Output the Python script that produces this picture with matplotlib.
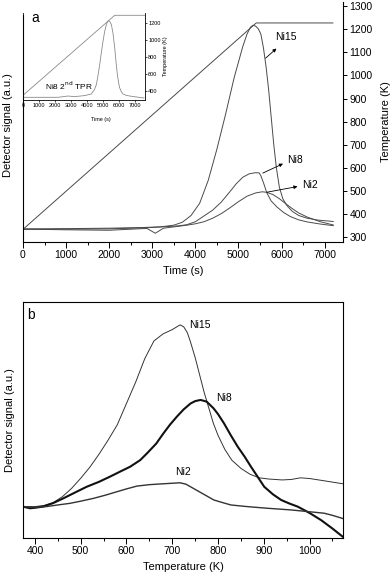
import matplotlib
matplotlib.use('Agg')
import matplotlib.pyplot as plt
from matplotlib.ticker import MultipleLocator

plt.rcParams['font.family'] = ['Liberation Sans', 'DejaVu Sans']

# ---- panel a: TPR signals vs time (signal in temperature-equivalent units) ----
ramp_t = [0, 5413, 7193]
ramp_T = [332, 1228, 1228]

ni15_t = [0, 1000, 2000, 2800, 3200, 3500, 3700, 3900, 4100, 4300, 4500, 4700, 4900, 5100,
          5200, 5280, 5340, 5400, 5460, 5520, 5580, 5640, 5700, 5760, 5820, 5880, 5950, 6030,
          6125, 6250, 6400, 6600, 6850, 7200]
ni15_s = [333, 335, 337, 340, 343, 350, 363, 392, 445, 545, 680, 830, 990, 1125,
          1180, 1210, 1218, 1214, 1203, 1180, 1120, 1040, 940, 820, 700, 600, 515, 465,
          435, 410, 392, 380, 372, 366]

ni8_t = [0, 1000, 2000, 3000, 3600, 3800, 4000, 4200, 4400, 4600, 4800, 4950, 5100, 5250,
         5400, 5480, 5520, 5580, 5660, 5760, 5900, 6050, 6200, 6400, 6600, 6900, 7200]
ni8_s = [333, 333, 334, 340, 347, 352, 365, 390, 415, 450, 495, 530, 558, 573,
         578, 577, 565, 535, 490, 455, 428, 405, 388, 373, 364, 355, 348]

ni2_t = [0, 1000, 2000, 2877, 3070, 3262, 3600, 3800, 4000, 4200, 4400, 4600, 4800, 5000,
         5200, 5400, 5550, 5650, 5800, 5950, 6100, 6250, 6400, 6600, 6900, 7200]
ni2_s = [333, 330, 328, 336, 315, 337, 345, 350, 356, 365, 380, 400, 425, 452,
         476, 490, 495, 493, 483, 465, 443, 422, 403, 385, 365, 351]

# inset: Ni8 2nd TPR
ins_ramp_t = [0, 5717, 7586]
ins_ramp_T = [353, 1290, 1290]
ins_t = [0, 2182, 2805, 3220, 3843, 4260, 4450, 4572, 4680, 4780, 4880, 4988, 5090, 5196,
         5280, 5343, 5420, 5509, 5610, 5717, 5800, 5883, 5960, 6030, 6130, 6234, 6450,
         6754, 7540]
ins_s = [330, 330, 345, 338, 350, 369, 420, 478, 590, 712, 850, 986, 1100, 1181,
         1220, 1228, 1215, 1181, 1080, 908, 740, 595, 500, 439, 395, 369, 352,
         342, 322]

# ---- panel b: signals vs temperature (a.u.) ----
b15_T = [374, 400, 420, 440, 460, 480, 500, 520, 540, 560, 580, 600, 620, 640, 660, 680,
         700, 717, 725, 733, 740, 750, 760, 770, 780, 790, 800, 815, 830, 850, 870, 890,
         910, 940, 960, 980, 1000, 1030, 1072]
b15_s = [13.3, 13.3, 13.8, 15, 17.5, 21, 25.3, 30, 35.5, 41.5, 48, 57, 66, 76, 83.5, 86.5,
         88.3, 90.3, 89.5, 87, 83, 76.5, 69, 61.5, 55, 48.5, 43.5, 37.5, 33, 29.5, 27, 25.5,
         25, 24.6, 24.8, 25.5, 25.2, 24.3, 23]

b8_T = [374, 389, 400, 418, 440, 462, 490, 513, 540, 564, 590, 608, 630, 645, 665, 681,
        695, 710, 725, 740, 750, 762, 775, 790, 800, 813, 828, 843, 858, 872, 887, 901,
        920, 938, 956, 974, 1000, 1025, 1050, 1072]
b8_s = [13.3, 12.6, 12.8, 13.3, 14.8, 16.8, 19.5, 21.7, 23.8, 26, 28.5, 30.2, 33, 35.9, 40, 44.4,
        48, 51.4, 54.5, 57, 58, 58.5, 57.8, 55, 52.5, 48.6, 43.5, 38.7, 34.5, 30.2, 25.8, 21.7,
        18.5, 16.1, 14.6, 13.3, 10.6, 7.6, 4, 0.6]

b2_T = [374, 400, 425, 450, 477, 500, 528, 555, 579, 600, 623, 650, 674, 700, 717, 730,
        740, 760, 791, 810, 828, 864, 908, 959, 996, 1032, 1050, 1072]
b2_s = [13.3, 13, 13.3, 14, 14.7, 15.6, 16.8, 18.2, 19.6, 20.8, 22, 22.6, 22.9, 23.2, 23.4, 22.8,
        21.7, 19.5, 16.1, 15, 14, 13.3, 12.6, 11.9, 11.2, 10.5, 9.6, 8.3]

W, H = 392, 579


def box(l, t, r, b):
    return [l / W, 1 - b / H, (r - l) / W, (b - t) / H]


fig = plt.figure(figsize=(W / 100, H / 100), dpi=100)
line_c = '#4a4a4a'

# panel a
axa = fig.add_axes(box(23, 2, 342.7, 242))
axa.set_facecolor('none')
axa.set_xlim(0, 7420)
axa.set_ylim(277, 1319)
axa.spines['top'].set_visible(False)
axa.spines['left'].set_bounds(277, 1262)
for sp in axa.spines.values():
    sp.set_linewidth(0.8)
axa.plot(ramp_t, ramp_T, color=line_c, lw=0.7)
axa.plot(ni15_t, ni15_s, color=line_c, lw=0.7)
axa.plot(ni8_t, ni8_s, color=line_c, lw=0.7)
axa.plot(ni2_t, ni2_s, color=line_c, lw=0.7)
axa.xaxis.set_major_locator(MultipleLocator(1000))
axa.xaxis.set_minor_locator(MultipleLocator(500))
axa.yaxis.set_major_locator(MultipleLocator(100))
axa.yaxis.tick_right()
axa.yaxis.set_label_position('right')
axa.tick_params(axis='x', which='major', direction='out', length=4, width=0.7, labelsize=7.5, pad=2)
axa.tick_params(axis='x', which='minor', direction='out', length=2.5, width=0.7)
axa.tick_params(axis='y', which='major', direction='out', length=3, width=0.7, labelsize=7.5, pad=2)
axa.set_xlabel('Time (s)', fontsize=8, labelpad=4)
axa.set_ylabel('Temperature (K)', fontsize=8, labelpad=6)

axa.annotate('', xy=(5930, 1125), xytext=(5582, 1067),
             arrowprops=dict(arrowstyle='-|>', lw=0.6, color='k', mutation_scale=5))
axa.text(5853, 1166, 'Ni15', fontsize=7.5, va='center', ha='left')
axa.annotate('', xy=(6093, 622), xytext=(5506, 571),
             arrowprops=dict(arrowstyle='-|>', lw=0.6, color='k', mutation_scale=5))
axa.text(6130, 633, 'Ni8', fontsize=7.5, va='center', ha='left')
axa.annotate('', xy=(6434, 520), xytext=(5599, 491),
             arrowprops=dict(arrowstyle='-|>', lw=0.6, color='k', mutation_scale=5))
axa.text(6470, 524, 'Ni2', fontsize=7.5, va='center', ha='left')

fig.text(8 / W, 1 - 125 / H, 'Detector signal (a.u.)', rotation=90, fontsize=8,
         ha='center', va='center')
fig.text(31 / W, 1 - 18 / H, 'a', fontsize=10, ha='left', va='center')

# inset
axi = fig.add_axes(box(23, 13, 144.7, 99.7))
axi.set_facecolor('none')
axi.set_xlim(0, 7586)
axi.set_ylim(302, 1317)
axi.spines['top'].set_visible(False)
for sp in axi.spines.values():
    sp.set_linewidth(0.6)
axi.plot(ins_ramp_t, ins_ramp_T, color='#8a8a8a', lw=0.6)
axi.plot(ins_t, ins_s, color='#8a8a8a', lw=0.6)
axi.xaxis.set_major_locator(MultipleLocator(1000))
axi.set_yticks([400, 600, 800, 1000, 1200])
axi.yaxis.tick_right()
axi.yaxis.set_label_position('right')
axi.tick_params(axis='both', direction='out', length=1.5, width=0.5, labelsize=4, pad=1)
axi.set_xlabel('Time (s)', fontsize=4, labelpad=2)
axi.xaxis.set_label_coords(0.64, -0.2)
axi.set_ylabel('Temperature (K)', fontsize=4, labelpad=2)
axi.text(1350, 470, 'Ni8 2$^{\\mathrm{nd}}$ TPR', fontsize=6, ha='left', va='center')

# panel b
axb = fig.add_axes(box(23, 302, 343, 538))
axb.set_xlim(374, 1073)
axb.set_ylim(0, 100)
for sp in axb.spines.values():
    sp.set_linewidth(0.8)
axb.plot(b15_T, b15_s, color='#333333', lw=0.7)
axb.plot(b8_T, b8_s, color='#111111', lw=1.5)
axb.plot(b2_T, b2_s, color='#333333', lw=1.0)
axb.xaxis.set_major_locator(MultipleLocator(100))
axb.xaxis.set_minor_locator(MultipleLocator(50))
axb.set_yticks([])
axb.tick_params(axis='x', which='major', direction='out', length=4, width=0.7, labelsize=7.5, pad=2)
axb.tick_params(axis='x', which='minor', direction='out', length=2.5, width=0.7)
axb.set_xlabel('Temperature (K)', fontsize=8, labelpad=4)
axb.set_ylabel('Detector signal (a.u.)', fontsize=8, labelpad=6)
axb.text(736, 90.3, 'Ni15', fontsize=7.5, ha='left', va='center')
axb.text(795, 59.5, 'Ni8', fontsize=7.5, ha='left', va='center')
axb.text(707, 28, 'Ni2', fontsize=7.5, ha='left', va='center')
fig.text(27 / W, 1 - 315 / H, 'b', fontsize=10, ha='left', va='center')

fig.savefig('out.png', dpi=100)
